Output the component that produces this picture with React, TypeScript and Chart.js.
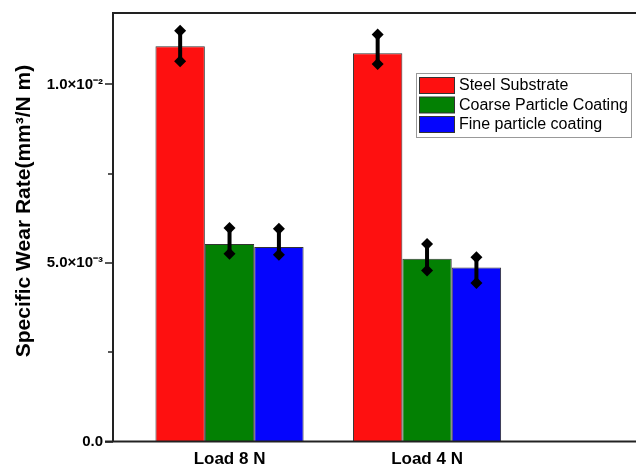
import React, { useEffect, useRef } from "react";
import { Chart, registerables } from "chart.js";

Chart.register(...registerables);

// ---- data ----
const categories = ["Load 8 N", "Load 4 N"];
const seriesNames = ["Steel Substrate", "Coarse Particle Coating", "Fine particle coating"];
const steel = [0.01107, 0.01087];
const coarse = [0.00553, 0.00512];
const fine = [0.00545, 0.00487];
const steelHigh = [0.0115, 0.0114];
const steelLow = [0.01065, 0.01057];
const coarseHigh = [0.00598, 0.00553];
const coarseLow = [0.00526, 0.00479];
const fineHigh = [0.00596, 0.00516];
const fineLow = [0.00523, 0.00444];
const yMajorTicks = [0, 0.005, 0.01];
const yMinorTicks = [0.0025, 0.0075];
const yTickLabels = ["0.0", "5.0×10⁻³", "1.0×10⁻²"];
const yTitle = "Specific Wear Rate(mm³/N m)";

const colors = ["#fe1010", "#038003", "#0505fd"];
const FONT = "'Liberation Sans', Arial, sans-serif";

export default function App() {
  const ref = useRef<HTMLCanvasElement | null>(null);

  useEffect(() => {
    const canvas = ref.current;
    if (!canvas) return;
    const values = [steel, coarse, fine];
    const highs = [steelHigh, coarseHigh, fineHigh];
    const lows = [steelLow, coarseLow, fineLow];

    const decor = {
      id: "decor",
      afterDatasetsDraw(chart: any) {
        const ctx = chart.ctx;
        const { left, top, bottom } = chart.chartArea;
        const yS = chart.scales.y;
        const right = chart.width;
        ctx.save();
        // error bars
        ctx.fillStyle = "#000";
        ctx.strokeStyle = "#000";
        for (let d = 0; d < values.length; d++) {
          const meta = chart.getDatasetMeta(d);
          meta.data.forEach((bar: any, i: number) => {
            const x = bar.x;
            const yh = yS.getPixelForValue(highs[d][i]);
            const yl = yS.getPixelForValue(lows[d][i]);
            ctx.lineWidth = 4;
            ctx.beginPath();
            ctx.moveTo(x, yh);
            ctx.lineTo(x, yl);
            ctx.stroke();
            for (const yy of [yh, yl]) {
              const s = 6;
              ctx.beginPath();
              ctx.moveTo(x, yy - s);
              ctx.lineTo(x + s, yy);
              ctx.lineTo(x, yy + s);
              ctx.lineTo(x - s, yy);
              ctx.closePath();
              ctx.fill();
            }
          });
        }
        // frame
        ctx.strokeStyle = "#222";
        ctx.lineWidth = 2;
        ctx.beginPath();
        ctx.moveTo(right, top);
        ctx.lineTo(left, top);
        ctx.lineTo(left, bottom);
        ctx.moveTo(left - 8, bottom);
        ctx.lineTo(right, bottom);
        ctx.stroke();
        // y ticks
        ctx.lineWidth = 1.5;
        ctx.beginPath();
        for (const v of yMajorTicks) {
          const y = Math.round(yS.getPixelForValue(v));
          ctx.moveTo(left - 8, y);
          ctx.lineTo(left, y);
        }
        for (const v of yMinorTicks) {
          const y = Math.round(yS.getPixelForValue(v));
          ctx.moveTo(left - 5, y);
          ctx.lineTo(left, y);
        }
        ctx.stroke();
        // y title
        ctx.save();
        ctx.translate(24, 211);
        ctx.rotate(-Math.PI / 2);
        ctx.font = `bold 21px ${FONT}`;
        ctx.fillStyle = "#000";
        ctx.textAlign = "center";
        ctx.textBaseline = "middle";
        ctx.fillText(yTitle, 0, 0);
        ctx.restore();
        // legend
        const lx = 416.5, ly = 73.5, lw = 215, lh = 64;
        ctx.fillStyle = "#fff";
        ctx.fillRect(lx, ly, lw, lh);
        ctx.strokeStyle = "#999";
        ctx.lineWidth = 1;
        ctx.strokeRect(lx, ly, lw, lh);
        const rowTops = [77.5, 97, 116.5];
        ctx.font = `16px ${FONT}`;
        ctx.textBaseline = "middle";
        ctx.textAlign = "left";
        for (let d = 0; d < seriesNames.length; d++) {
          const ry = rowTops[d];
          ctx.fillStyle = colors[d];
          ctx.fillRect(419.5, ry, 35, 16);
          ctx.strokeStyle = "#333";
          ctx.strokeRect(419.5, ry, 35, 16);
          ctx.fillStyle = "#000";
          ctx.fillText(seriesNames[d], 459, ry + 8.5);
        }
        ctx.restore();
      },
    };

    const chart = new Chart(canvas, {
      type: "bar",
      data: {
        datasets: seriesNames.map((name, d) => ({
          label: name,
          data: values[d].map((v, i) => ({ x: i + 1, y: v })),
          backgroundColor: colors[d],
          borderColor: "#333",
          borderWidth: 1,
          barPercentage: 1,
          categoryPercentage: 0.75,
        })),
      },
      options: {
        responsive: false,
        animation: false,
        events: [],
        layout: { padding: { top: 13, left: 0, right: 0, bottom: 0 } },
        plugins: { legend: { display: false }, tooltip: { enabled: false } },
        scales: {
          x: {
            type: "linear",
            offset: false,
            min: 0.41,
            max: 3.058,
            grid: { display: false, drawTicks: false, offset: false },
            border: { display: false },
            afterBuildTicks: (scale: any) => {
              scale.ticks = categories.map((_, i) => ({ value: i + 1 }));
            },
            afterFit: (scale: any) => {
              scale.height = 24.5;
              scale.paddingLeft = 0;
              scale.paddingRight = 0;
            },
            ticks: {
              autoSkip: false,
              maxRotation: 0,
              padding: 8,
              color: "#000",
              font: { family: FONT, size: 17, weight: "bold" },
              callback: (v: any) => categories[Math.round(Number(v)) - 1] ?? "",
            },
          },
          y: {
            type: "linear",
            min: 0,
            max: 0.012,
            grid: { display: false, drawTicks: false },
            border: { display: false },
            afterBuildTicks: (scale: any) => {
              scale.ticks = yMajorTicks.map((v) => ({ value: v }));
            },
            afterFit: (scale: any) => {
              scale.width = 113;
              scale.paddingTop = 0;
              scale.paddingBottom = 0;
            },
            ticks: {
              padding: 10,
              color: "#000",
              font: { family: FONT, size: 15, weight: "bold" },
              callback: (v: any) => {
                const idx = yMajorTicks.findIndex((t) => Math.abs(t - Number(v)) < 1e-9);
                return idx >= 0 ? yTickLabels[idx] : "";
              },
            },
          },
        },
      },
      plugins: [decor],
    });
    return () => chart.destroy();
  }, []);

  return (
    <div style={{ position: "absolute", left: 0, top: 0, width: 636, height: 466, background: "#fff" }}>
      <canvas ref={ref} width={636} height={466} style={{ display: "block" }} />
    </div>
  );
}
